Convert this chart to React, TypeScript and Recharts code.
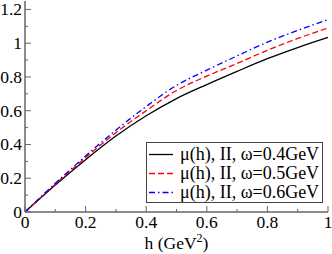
import React from 'react';
import { LineChart, Line, XAxis, YAxis, Legend } from 'recharts';

const hValues = [0, 0.1, 0.2, 0.3, 0.4, 0.5, 0.6, 0.7, 0.8, 0.9, 1.0];
const mu04 = [0, 0.16, 0.31, 0.45, 0.57, 0.672, 0.755, 0.833, 0.908, 0.974, 1.034];
const mu05 = [0, 0.165, 0.322, 0.47, 0.6, 0.72, 0.805, 0.88, 0.958, 1.028, 1.09];
const mu06 = [0, 0.17, 0.332, 0.485, 0.625, 0.75, 0.84, 0.925, 1.006, 1.076, 1.14];

const seriesNames = ['μ(h), II, ω=0.4GeV', 'μ(h), II, ω=0.5GeV', 'μ(h), II, ω=0.6GeV'];
const xTicks = [0, 0.1, 0.2, 0.3, 0.4, 0.5, 0.6, 0.7, 0.8, 0.9, 1.0];
const yTicks = [0, 0.1, 0.2, 0.3, 0.4, 0.5, 0.6, 0.7, 0.8, 0.9, 1.0, 1.1, 1.2];

const data = hValues.map((h, i) => ({ h, a: mu04[i], b: mu05[i], c: mu06[i] }));

const FONT = 'Liberation Serif, serif';
const FS = 17.5;
const LFS = 18;
const AXIS = '#666';
const MAJ = 6;
const MIN = 3;

const dashes: Record<string, string | undefined> = { a: undefined, b: '6 3', c: '6 3 1.5 3' };

const isMajor = (v: number) => Math.round(v * 10) % 2 === 0;
const fmt = (v: number) => String(Math.round(v * 10) / 10);

const textStyle = { fontFamily: FONT, fontSize: FS };

const BottomTick = (props: any) => {
  const { x, y, payload } = props;
  const v = payload.value;
  const major = isMajor(v);
  return (
    <g>
      <line x1={x} x2={x} y1={y} y2={y - (major ? MAJ : MIN)} stroke={AXIS} strokeWidth={1} />
      {major && (
        <text x={x} y={y + 16} textAnchor="middle" style={textStyle} fill="#000">
          {fmt(v)}
        </text>
      )}
    </g>
  );
};

const TopTick = (props: any) => {
  const { x, y, payload } = props;
  const major = isMajor(payload.value);
  return <line x1={x} x2={x} y1={y} y2={y + (major ? MAJ : MIN)} stroke={AXIS} strokeWidth={1} />;
};

const LeftTick = (props: any) => {
  const { x, y, payload } = props;
  const v = payload.value;
  const major = isMajor(v);
  return (
    <g>
      <line x1={x} x2={x + (major ? MAJ : MIN)} y1={y} y2={y} stroke={AXIS} strokeWidth={1} />
      {major && (
        <text x={x - 3} y={y + 6} textAnchor="end" style={textStyle} fill="#000">
          {fmt(v)}
        </text>
      )}
    </g>
  );
};

const RightTick = (props: any) => {
  const { x, y, payload } = props;
  const major = isMajor(payload.value);
  return <line x1={x} x2={x - (major ? MAJ : MIN)} y1={y} y2={y} stroke={AXIS} strokeWidth={1} />;
};

const XLabel = (props: any) => {
  const vb = props.viewBox || {};
  const cx = vb.x + vb.width / 2;
  return (
    <text x={cx} y={vb.y + 37} textAnchor="middle" style={textStyle} fill="#000">
      h (GeV
      <tspan style={{ fontSize: 12 }} dy={-7}>2</tspan>
      <tspan dy={7}>)</tspan>
    </text>
  );
};

const renderLegend = (props: any) => {
  const payload = props.payload || [];
  return (
    <div
      style={{
        boxSizing: 'border-box',
        width: 177,
        height: 61,
        border: '1px solid #444',
        background: '#fff',
        fontFamily: FONT,
        fontSize: LFS,
        paddingTop: 1.5,
      }}
    >
      {payload.map((entry: any, i: number) => (
        <div key={i} style={{ height: 19, display: 'flex', alignItems: 'center', whiteSpace: 'nowrap' }}>
          <svg width={30} height={19} style={{ display: 'block', flex: 'none' }}>
            <line
              x1={2}
              x2={26}
              y1={9.5}
              y2={9.5}
              stroke={entry.color}
              strokeWidth={1.3}
              strokeDasharray={dashes[entry.dataKey]}
            />
          </svg>
          <span style={{ marginLeft: 3, lineHeight: '19px' }}>{entry.value}</span>
        </div>
      ))}
    </div>
  );
};

export default function App() {
  return (
    <div style={{ position: 'absolute', left: 0, top: 0 }}>
      <LineChart width={332} height={254} data={data} margin={{ top: 1, right: 4, left: 0, bottom: 0 }}>
        <XAxis
          xAxisId="bottom"
          dataKey="h"
          type="number"
          domain={[0, 1]}
          ticks={xTicks}
          interval={0}
          height={42}
          tickSize={0}
          tickMargin={0}
          tickLine={false}
          tick={<BottomTick />}
          axisLine={{ stroke: AXIS, strokeWidth: 1.5 }}
          label={<XLabel />}
        />
        <XAxis
          xAxisId="top"
          orientation="top"
          dataKey="h"
          type="number"
          domain={[0, 1]}
          ticks={xTicks}
          interval={0}
          height={0}
          tickSize={0}
          tickMargin={0}
          tickLine={false}
          tick={<TopTick />}
          axisLine={{ stroke: AXIS, strokeWidth: 1.5 }}
        />
        <YAxis
          yAxisId="left"
          type="number"
          domain={[0, 1.25]}
          ticks={yTicks}
          interval={0}
          width={25}
          tickSize={0}
          tickMargin={0}
          tickLine={false}
          tick={<LeftTick />}
          axisLine={{ stroke: AXIS, strokeWidth: 1.5 }}
        />
        <YAxis
          yAxisId="right"
          orientation="right"
          type="number"
          domain={[0, 1.25]}
          ticks={yTicks}
          interval={0}
          width={0}
          tickSize={0}
          tickMargin={0}
          tickLine={false}
          tick={<RightTick />}
          axisLine={{ stroke: AXIS, strokeWidth: 1.5 }}
        />
        <Legend
          layout="vertical"
          align="center"
          verticalAlign="middle"
          wrapperStyle={{ position: 'absolute', left: 146, top: 142, width: 177, height: 61 }}
          content={renderLegend}
        />
        <Line xAxisId="bottom" yAxisId="left" type="monotone" dataKey="a" name={seriesNames[0]} stroke="#000000" strokeWidth={1.3} dot={false} isAnimationActive={false} />
        <Line xAxisId="bottom" yAxisId="left" type="monotone" dataKey="b" name={seriesNames[1]} stroke="#ff0000" strokeWidth={1.3} strokeDasharray={dashes.b} dot={false} isAnimationActive={false} />
        <Line xAxisId="bottom" yAxisId="left" type="monotone" dataKey="c" name={seriesNames[2]} stroke="#0000ff" strokeWidth={1.3} strokeDasharray={dashes.c} dot={false} isAnimationActive={false} />
      </LineChart>
    </div>
  );
}
